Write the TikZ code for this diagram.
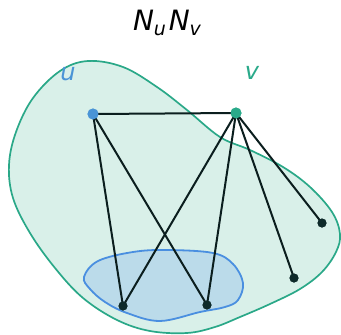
\documentclass[tikz,border=0pt]{standalone}
\usepackage{fontspec}
\setmainfont{DejaVu Sans}
\definecolor{outerfill}{HTML}{D9F0E9}
\definecolor{outerline}{HTML}{2AA888}
\definecolor{innerfill}{HTML}{BBDBEA}
\definecolor{innerline}{HTML}{4A8FE0}
\definecolor{ucol}{HTML}{4A94D6}
\definecolor{vcol}{HTML}{2AAA8A}
\definecolor{dark}{HTML}{0E2A2A}
\definecolor{edgecol}{HTML}{0B1E1E}
\begin{document}
\begin{tikzpicture}[x=1pt,y=-1pt,
  bigdot/.style={circle,inner sep=0pt,minimum size=11pt},
  smalldot/.style={circle,fill=dark,inner sep=0pt,minimum size=9pt},
  edge/.style={draw=edgecol,line width=2pt},
  lbl/.style={font=\fontsize{24}{28}\selectfont\itshape}]
\useasboundingbox (0,0) rectangle (341,335);
% outer region
\draw[outerline,fill=outerfill,line width=1.7pt] plot[smooth cycle,tension=0.6] coordinates {
 (88,61) (123,67) (157,87) (187,110) (220,137) (250,150) (283,167) (310,187) (332,212) (340,234)
 (336,252) (322,272) (300,289) (270,304) (240,317) (215,327) (187,333) (150,331) (117,320)
 (83,298) (55,268) (30,233) (13,198) (9,165) (16,132) (33,98) (60,71)};
% inner region
\draw[innerline,fill=innerfill,line width=1.8pt] plot[smooth cycle,tension=0.6] coordinates {
 (84,277) (98,261) (133,252) (167,250) (213,253) (233,264) (243,283) (238,300) (225,307)
 (200,312) (160,321) (127,313) (105,302) (90,289)};
% nodes
\node[bigdot,fill=ucol] (u) at (93,114) {};
\node[bigdot,fill=vcol] (v) at (236,113) {};
\node[smalldot] (b1) at (123,306) {};
\node[smalldot] (b2) at (207,305) {};
\node[smalldot] (b3) at (294,278) {};
\node[smalldot] (b4) at (322,223) {};
% edges
\path[edge] (u.center) -- (v.center);
\path[edge] (u.center) -- (b1.center);
\path[edge] (u.center) -- (b2.center);
\path[edge] (v.center) -- (b1.center);
\path[edge] (v.center) -- (b2.center);
\path[edge] (v.center) -- (b3.center);
\path[edge] (v.center) -- (b4.center);
% redraw dots on top
\node[bigdot,fill=ucol] at (u) {};
\node[bigdot,fill=vcol] at (v) {};
\node[smalldot] at (b1) {};
\node[smalldot] at (b2) {};
\node[smalldot] at (b3) {};
\node[smalldot] at (b4) {};
% labels
\node[lbl,text=ucol] (ul) at (68,74) {u};
\node[lbl,text=vcol] (vl) at (252,73) {v};
\node[font=\fontsize{28}{32}\selectfont\itshape,anchor=base] (title) at (167,30)
  {N\raisebox{-0.2em}{\fontsize{19}{21}\selectfont u}\kern0.1em N\raisebox{-0.2em}{\fontsize{19}{21}\selectfont v}};
\end{tikzpicture}
\end{document}
